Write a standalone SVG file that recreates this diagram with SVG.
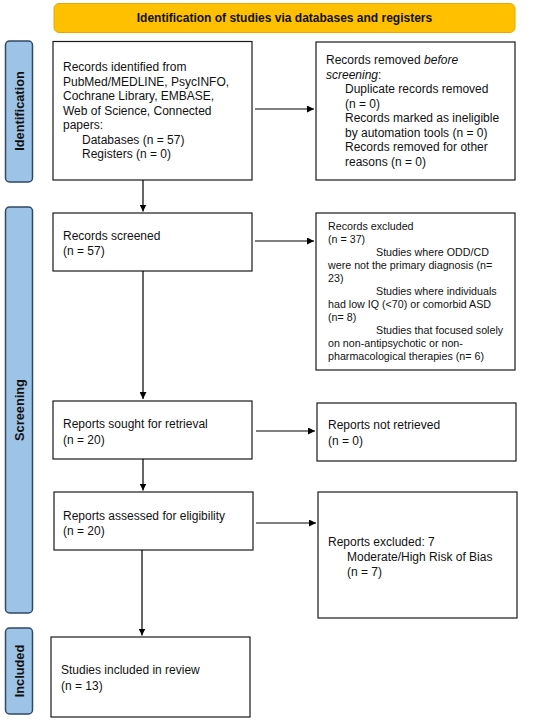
<svg xmlns="http://www.w3.org/2000/svg" width="550" height="724" viewBox="0 0 550 724">
<defs>
<marker id="ah" viewBox="0 0 10 10" refX="10" refY="5" markerWidth="7" markerHeight="7" markerUnits="userSpaceOnUse" orient="auto"><path d="M0,0 L10,5 L0,10 z" fill="#000"/></marker>
<style>
.box{fill:#fff;stroke:#1a1a1a;stroke-width:1.2}
.side{fill:#9DC3E6;stroke:#2e4a66;stroke-width:1.5}
.t{font-family:"Liberation Sans",Arial,sans-serif;font-size:12px;fill:#111}
.s{font-family:"Liberation Sans",Arial,sans-serif;font-size:10.7px;fill:#111}
.lab{font-family:"Liberation Sans",Arial,sans-serif;font-size:12.8px;font-weight:bold;fill:#111;text-anchor:middle}
.ln{stroke:#000;stroke-width:1.2;fill:none;marker-end:url(#ah)}
</style>
</defs>
<g id="banner">
<rect x="54" y="3.5" width="461" height="29" rx="5" fill="#FFC000" stroke="#E3AA00" stroke-width="1"/>
<text x="284.5" y="22" class="t" style="font-weight:bold;text-anchor:middle">Identification of studies via databases and registers</text>
</g>
<g id="side-identification">
<rect x="5.5" y="41" width="27" height="141" rx="4" class="side"/>
<text class="lab" transform="translate(23.5,111) rotate(-90)">Identification</text>
</g>
<g id="side-screening">
<rect x="5.5" y="207" width="27" height="406" rx="4" class="side"/>
<text class="lab" transform="translate(23.5,410) rotate(-90)">Screening</text>
</g>
<g id="side-included">
<rect x="5.5" y="628" width="27" height="86" rx="4" class="side"/>
<text class="lab" transform="translate(23.5,671) rotate(-90)">Included</text>
</g>
<g id="records-identified">
<rect x="53" y="41.5" width="199" height="138.5" class="box"/>
<text class="t"><tspan x="63" y="71">Records identified from</tspan><tspan x="63" y="85.5">PubMed/MEDLINE, PsycINFO,</tspan><tspan x="63" y="100">Cochrane Library, EMBASE,</tspan><tspan x="63" y="114.5">Web of Science, Connected</tspan><tspan x="63" y="129">papers:</tspan><tspan x="82" y="143.5">Databases (n = 57)</tspan><tspan x="82" y="158">Registers (n = 0)</tspan></text>
</g>
<g id="records-removed">
<rect x="316" y="42" width="199" height="138" class="box"/>
<text class="t"><tspan x="326" y="64">Records removed <tspan font-style="italic">before</tspan></tspan><tspan x="326" y="78.5" font-style="italic">screening</tspan><tspan>:</tspan><tspan x="345" y="93">Duplicate records removed</tspan><tspan x="345" y="107.5">(n = 0)</tspan><tspan x="345" y="122">Records marked as ineligible</tspan><tspan x="345" y="136.5">by automation tools (n = 0)</tspan><tspan x="345" y="151">Records removed for other</tspan><tspan x="345" y="165.5">reasons (n = 0)</tspan></text>
</g>
<g id="records-screened">
<rect x="53" y="213" width="199" height="58" class="box"/>
<text class="t"><tspan x="63" y="239.5">Records screened</tspan><tspan x="63" y="254.5">(n = 57)</tspan></text>
</g>
<g id="records-excluded">
<rect x="316" y="213" width="199" height="157" class="box"/>
<text class="s"><tspan x="328" y="229.5">Records excluded</tspan><tspan x="328" y="242.5">(n = 37)</tspan><tspan x="376" y="255.5">Studies where ODD/CD</tspan><tspan x="328" y="268.5">were not the primary diagnosis (n=</tspan><tspan x="328" y="281.5">23)</tspan><tspan x="376" y="294.5">Studies where individuals</tspan><tspan x="328" y="307.5">had low IQ (&lt;70) or comorbid ASD</tspan><tspan x="328" y="320.5">(n= 8)</tspan><tspan x="376" y="333.5">Studies that focused solely</tspan><tspan x="328" y="346.5">on non-antipsychotic or non-</tspan><tspan x="328" y="359.5">pharmacological therapies (n= 6)</tspan></text>
</g>
<g id="reports-sought">
<rect x="53" y="401" width="199" height="58" class="box"/>
<text class="t"><tspan x="63" y="427.5">Reports sought for retrieval</tspan><tspan x="63" y="444">(n = 20)</tspan></text>
</g>
<g id="reports-not-retrieved">
<rect x="317" y="403" width="199" height="58" class="box"/>
<text class="t"><tspan x="328" y="428.5">Reports not retrieved</tspan><tspan x="328" y="445">(n = 0)</tspan></text>
</g>
<g id="reports-assessed">
<rect x="54" y="492" width="199" height="58" class="box"/>
<text class="t"><tspan x="63" y="519.5">Reports assessed for eligibility</tspan><tspan x="63" y="534.5">(n = 20)</tspan></text>
</g>
<g id="reports-excluded">
<rect x="318" y="492" width="199" height="126" class="box"/>
<text class="t"><tspan x="328" y="545.5">Reports excluded: 7</tspan><tspan x="347" y="560.5">Moderate/High Risk of Bias</tspan><tspan x="347" y="575.5">(n = 7)</tspan></text>
</g>
<g id="studies-included">
<rect x="51" y="637" width="199" height="80" class="box"/>
<text class="t"><tspan x="61" y="673.5">Studies included in review</tspan><tspan x="61" y="689.5">(n = 13)</tspan></text>
</g>
<g id="connectors">
<line x1="255" y1="109" x2="314" y2="109" class="ln"/>
<line x1="143" y1="180" x2="143" y2="211.5" class="ln"/>
<line x1="255" y1="241" x2="314" y2="241" class="ln"/>
<line x1="143" y1="271" x2="143" y2="399" class="ln"/>
<line x1="256" y1="431" x2="315" y2="431" class="ln"/>
<line x1="143" y1="459" x2="143" y2="490.5" class="ln"/>
<line x1="256" y1="523" x2="316" y2="523" class="ln"/>
<line x1="142" y1="550" x2="142" y2="635.5" class="ln"/>
</g>
</svg>
